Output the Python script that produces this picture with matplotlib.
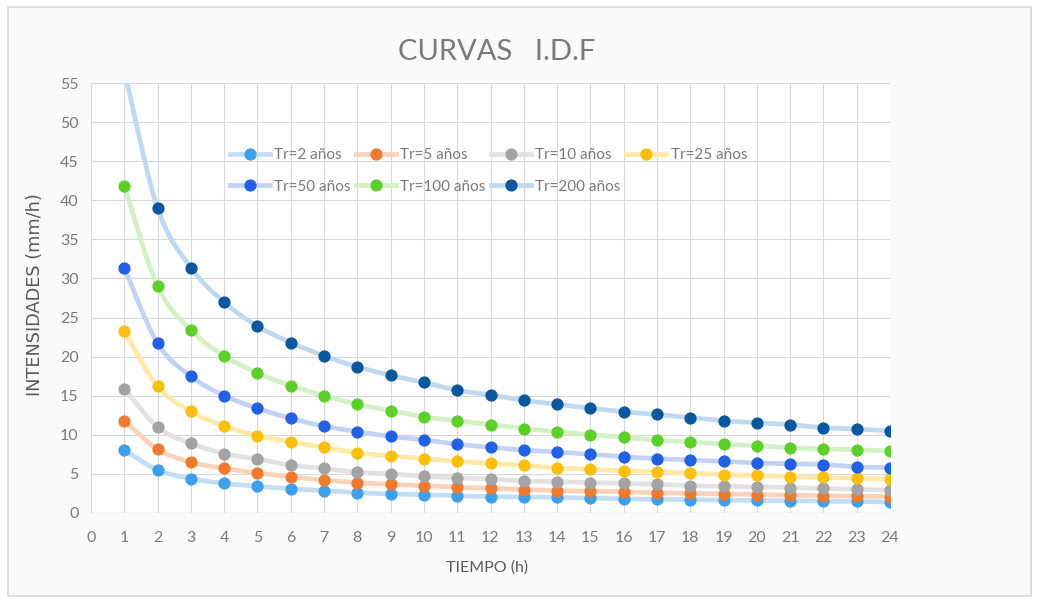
import numpy as np
import matplotlib
matplotlib.use("Agg")
import matplotlib.pyplot as plt
from matplotlib.patches import Rectangle
from matplotlib.lines import Line2D
from matplotlib.font_manager import FontProperties

# ---------------- data ----------------
tiempo = list(range(1, 25))
labels = ["Tr=2 años", "Tr=5 años", "Tr=10 años", "Tr=25 años",
          "Tr=50 años", "Tr=100 años", "Tr=200 años"]

tr2 = [8.05, 5.5, 4.4, 3.8, 3.4, 3.1, 2.85, 2.6, 2.45, 2.35, 2.2, 2.1,
       2.05, 2.0, 1.9, 1.8, 1.75, 1.7, 1.65, 1.6, 1.55, 1.5, 1.48, 1.4]
tr5 = [11.8, 8.15, 6.5, 5.7, 5.1, 4.65, 4.2, 3.9, 3.65, 3.5, 3.3, 3.15,
       3.0, 2.85, 2.8, 2.7, 2.6, 2.5, 2.45, 2.35, 2.3, 2.2, 2.15, 2.1]
tr10 = [15.9, 11.0, 8.9, 7.6, 6.9, 6.1, 5.7, 5.2, 5.0, 4.7, 4.5, 4.35,
        4.1, 4.0, 3.9, 3.8, 3.65, 3.5, 3.4, 3.35, 3.25, 3.15, 3.05, 2.9]
tr25 = [23.3, 16.2, 13.0, 11.1, 9.9, 9.1, 8.4, 7.7, 7.3, 6.95, 6.6, 6.35,
        6.1, 5.75, 5.6, 5.4, 5.3, 5.1, 4.9, 4.8, 4.65, 4.55, 4.45, 4.35]
tr50 = [31.3, 21.7, 17.5, 15.0, 13.4, 12.1, 11.1, 10.4, 9.8, 9.35, 8.8, 8.4,
        8.05, 7.8, 7.5, 7.2, 6.95, 6.8, 6.6, 6.4, 6.3, 6.2, 5.9, 5.8]
tr100 = [41.8, 29.0, 23.4, 20.1, 17.9, 16.3, 15.0, 13.9, 13.1, 12.3, 11.8, 11.3,
         10.8, 10.4, 10.0, 9.7, 9.3, 9.1, 8.8, 8.6, 8.35, 8.2, 8.1, 7.9]
tr200 = [56.5, 39.0, 31.4, 26.95, 23.9, 21.8, 20.1, 18.7, 17.6, 16.7, 15.7, 15.1,
         14.4, 13.9, 13.4, 12.95, 12.6, 12.2, 11.8, 11.55, 11.3, 10.9, 10.75, 10.5]

series = [tr2, tr5, tr10, tr25, tr50, tr100, tr200]
marker_colors = ["#3E9FEA", "#EE7A30", "#A3A3A3", "#FDBF0E",
                 "#2160E4", "#5CCF2B", "#0A579E"]
line_colors = ["#C2DDF4", "#F9D2BA", "#E2E2E2", "#FFE9A8",
               "#C3D1F3", "#D3F1C4", "#BFD9F0"]

TXT = "#595959"
TICK = "#7A7A7A"
plt.rcParams["font.family"] = ["Lato", "DejaVu Sans"]


def catmull_rom(x, y, n=20):
    x = np.asarray(x, float)
    y = np.asarray(y, float)
    px = np.concatenate([[2 * x[0] - x[1]], x, [2 * x[-1] - x[-2]]])
    py = np.concatenate([[2 * y[0] - y[1]], y, [2 * y[-1] - y[-2]]])
    xs, ys = [], []
    t = np.linspace(0, 1, n, endpoint=False)
    for i in range(1, len(px) - 2):
        p0x, p1x, p2x, p3x = px[i - 1:i + 3]
        p0y, p1y, p2y, p3y = py[i - 1:i + 3]
        for a, b, c, d, out in ((p0x, p1x, p2x, p3x, xs), (p0y, p1y, p2y, p3y, ys)):
            out.extend(0.5 * ((2 * b) + (-a + c) * t + (2 * a - 5 * b + 4 * c - d) * t ** 2
                              + (-a + 3 * b - 3 * c + d) * t ** 3))
    xs.append(x[-1])
    ys.append(y[-1])
    return np.array(xs), np.array(ys)


fig = plt.figure(figsize=(10.39, 6.03), dpi=100, facecolor="white")
W, H = 1039, 603
# chart frame
frame = Rectangle((8 / W, 1 - 596 / H), (1031 - 8) / W, (596 - 7) / H,
                  transform=fig.transFigure, facecolor="#FAFAFA",
                  edgecolor="#D9D9D9", linewidth=1.2, zorder=-5)
fig.add_artist(frame)

ax = fig.add_axes([91 / W, 1 - 513 / H, (890 - 91) / W, (513 - 83) / H], zorder=2)
ax.set_facecolor("white")
ax.set_xlim(0, 24)
ax.set_ylim(0, 55)
ax.set_xticks(range(0, 25))
ax.set_yticks(range(0, 56, 5))
ax.grid(True, color="#D9D9D9", linewidth=0.8)
ax.set_axisbelow(True)
for s in ax.spines.values():
    s.set_visible(False)
ax.axhline(0, color="#D9D9D9", linewidth=1.0, zorder=1)
ax.tick_params(length=0, colors=TICK, labelsize=11.5)
ax.tick_params(axis="x", pad=13)
ax.tick_params(axis="y", pad=9)

handles = []
for vals, mc, lc, lab in zip(series, marker_colors, line_colors, labels):
    sx, sy = catmull_rom(tiempo, vals)
    ax.plot(sx, sy, color=lc, linewidth=3.4, solid_capstyle="round", zorder=2)
    ax.plot(tiempo, vals, linestyle="none", marker="o", markersize=7.8,
            markerfacecolor=mc, markeredgecolor=mc, zorder=3)
    handles.append(Line2D([], [], color=lc, linewidth=3.4, marker="o",
                          markersize=7.8, markerfacecolor=mc, markeredgecolor=mc))

# legend filled row by row (matplotlib fills columns, so reorder)
order = [0, 4, 1, 5, 2, 6, 3]
leg = ax.legend([handles[i] for i in order], [labels[i] for i in order],
                ncol=4, loc="upper left",
                bbox_to_anchor=((230 - 91) / (890 - 91), (513 - 148) / (513 - 83)),
                frameon=False, fontsize=11, handlelength=2.6, handletextpad=0.3,
                columnspacing=0.35, labelspacing=1.15, borderaxespad=0,
                borderpad=0)
for t in leg.get_texts():
    t.set_color(TICK)

fig.text(497 / W, 1 - 52 / H, "CURVAS   I.D.F", ha="center", va="center",
         fontsize=21, color=TICK)
fig.text(487 / W, 1 - 568 / H, "TIEMPO (h)", ha="center", va="center",
         fontsize=11.5, color=TXT)
fig.text(35 / W, 1 - 295 / H, "INTENSIDADES (mm/h)", ha="center", va="center",
         rotation=90, color=TXT,
         fontproperties=FontProperties(family="DejaVu Sans", size=12.8))

fig.savefig("out.png", dpi=100, facecolor="white")
